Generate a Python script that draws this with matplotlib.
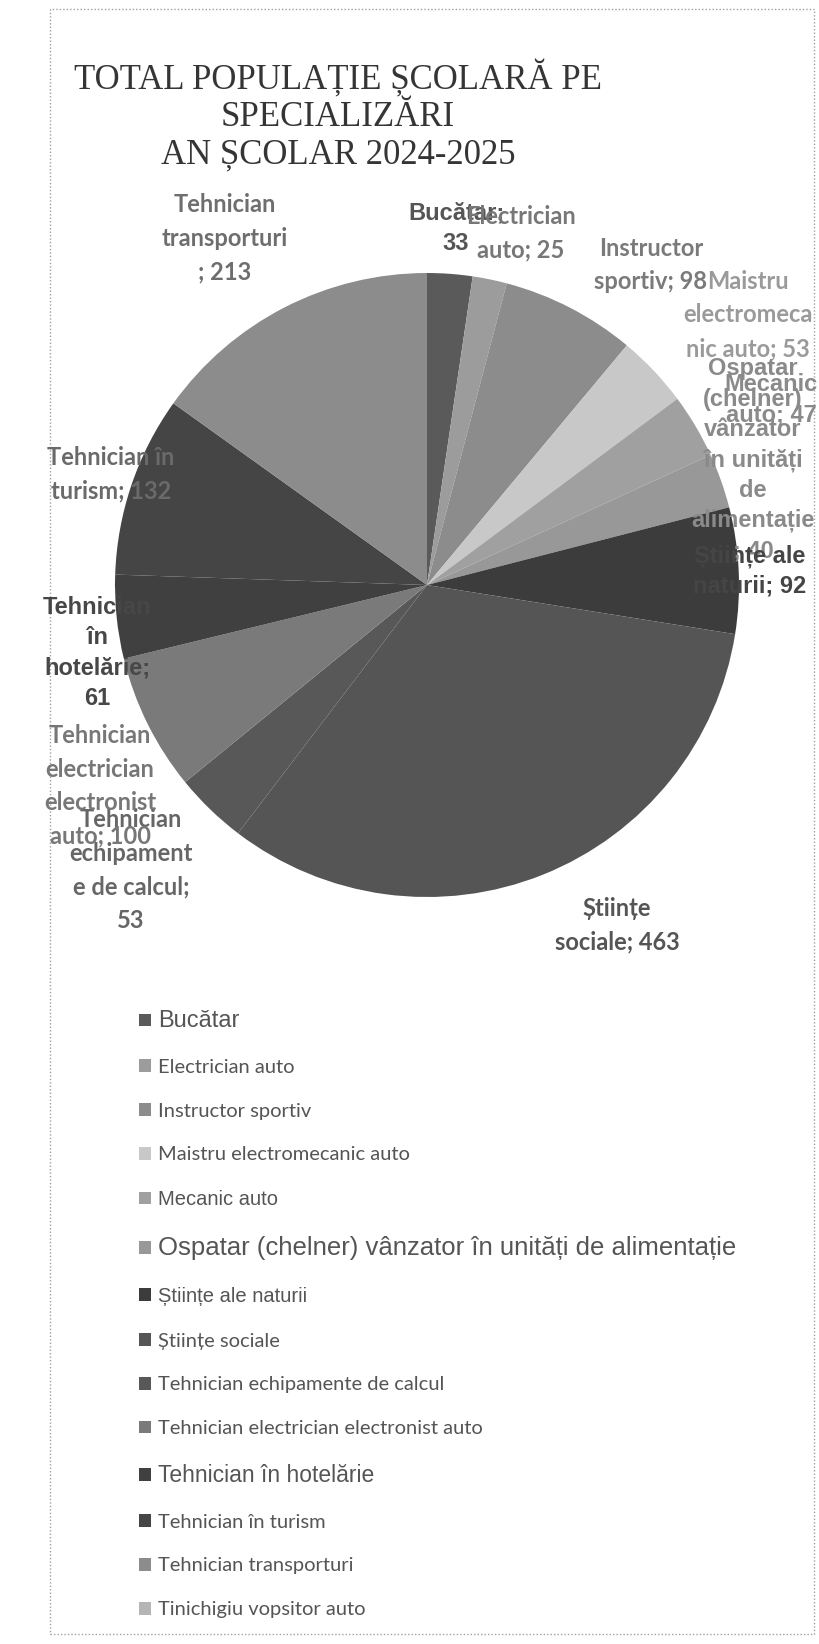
import matplotlib
matplotlib.use("Agg")
import matplotlib.pyplot as plt
from matplotlib.patches import Rectangle

# ---------------- data ----------------
categories = [
    "Bucătar",
    "Electrician auto",
    "Instructor sportiv",
    "Maistru electromecanic auto",
    "Mecanic auto",
    "Ospatar (chelner) vânzator în unități de alimentație",
    "Științe ale naturii",
    "Științe sociale",
    "Tehnician echipamente de calcul",
    "Tehnician electrician electronist auto",
    "Tehnician în hotelărie",
    "Tehnician în turism",
    "Tehnician transporturi",
    "Tinichigiu vopsitor auto",
]
values = [33, 25, 98, 53, 47, 40, 92, 463, 53, 100, 61, 132, 213, 0]

# wrapped data-label names (as Excel wrapped them)
label_names = [
    "Bucătar;\n",
    "Electrician\nauto;",
    "Instructor\nsportiv;",
    "Maistru\nelectromeca\nnic auto;",
    "Mecanic\nauto;",
    "Ospatar\n(chelner)\nvânzator\nîn unități\nde\nalimentație\n;",
    "Științe ale\nnaturii;",
    "Științe\nsociale;",
    "Tehnician\nechipament\ne de calcul;\n",
    "Tehnician\nelectrician\nelectronist\nauto;",
    "Tehnician\nîn\nhotelărie;\n",
    "Tehnician în\nturism;",
    "Tehnician\ntransporturi\n;",
    None,
]

title_lines = ["TOTAL POPULAȚIE ȘCOLARĂ PE", "SPECIALIZĂRI", "AN ȘCOLAR 2024-2025"]

# ---------------- styles ----------------
colors = ["#5a5a5a", "#9c9c9c", "#8c8c8c", "#c8c8c8", "#a0a0a0", "#989898",
          "#3c3c3c", "#555555", "#585858", "#7a7a7a", "#404040", "#454545",
          "#8c8c8c", "#b5b5b5"]

# label centre positions (pixels in figure, origin top-left) and styles
label_pos = [(456, 228), (521, 233), (651, 265), (748, 315), (771, 400), (753, 460),
             (750, 571), (617, 925), (131, 870), (100, 786), (97, 653), (111, 474),
             (225, 238), None]
label_col = ["#555555", "#777777", "#7a7a7a", "#9a9a9a", "#8a8a8a", "#8a8a8a",
             "#454545", "#555555", "#666666", "#777777", "#474747", "#6a6a6a",
             "#6e6e6e", None]
label_arial = [True, False, False, False, True, True, True, False, False, False, True, False, False, False]
legend_sizes = [17, 14.5, 14.5, 14.5, 14.5, 18.5, 14.5, 14.5, 14.5, 14.5, 16.5, 14.5, 14.5, 14.5]

W, H = 819, 1644
fig = plt.figure(figsize=(W / 100, H / 100), dpi=100)
fig.patch.set_facecolor("white")

def fx(x):
    return x / W

def fy(y):
    return 1 - y / H

# dotted frame
fig.patches.append(Rectangle((fx(50), fy(1634)), fx(814) - fx(50), fy(9) - fy(1634),
                             transform=fig.transFigure, fill=False, ec="#a0a0a0",
                             lw=1.0, ls=(0, (1, 1.5))))

# title
for line, y in zip(title_lines, [78, 118, 155]):
    fig.text(fx(338), fy(y), line, ha="center", va="center",
             family="Liberation Serif", fontsize=25, color="#353535")

# pie
cx, cy, r = 427, 585, 312
ax = fig.add_axes([fx(cx - r), fy(cy + r), 2 * r / W, 2 * r / H])
wedges, _ = ax.pie(values, colors=colors, startangle=90, counterclock=False,
                   radius=1.0, wedgeprops=dict(linewidth=0))
ax.set_xlim(-1, 1)
ax.set_ylim(-1, 1)
ax.set_aspect("equal")
ax.axis("off")

# data labels
for name, v, pos, col, ar in zip(label_names, values, label_pos, label_col, label_arial):
    if name is None:
        continue
    txt = name + ("" if name.endswith("\n") else " ") + str(v)
    if ar:
        fig.text(fx(pos[0]), fy(pos[1]), txt, ha="center", va="center",
                 family="Liberation Sans", weight="bold", fontsize=17, color=col,
                 linespacing=1.4)
    else:
        fig.text(fx(pos[0]), fy(pos[1]), txt, ha="center", va="center",
                 family="Lato", weight="bold", fontsize=17, color=col,
                 linespacing=1.55)

# legend
leg = fig.legend(wedges, categories, loc="upper left",
                 bbox_to_anchor=(fx(131), fy(1002)), frameon=False,
                 prop=dict(family="Lato", size=14.5), labelcolor="#555555",
                 handlelength=0.6, handleheight=0.6, handletextpad=0.35,
                 labelspacing=1.33, borderaxespad=0)
for t, ar, s in zip(leg.get_texts(), label_arial, legend_sizes):
    if ar:
        t.set_fontfamily("Liberation Sans")
    t.set_fontsize(s)

fig.savefig("out.png", dpi=100, facecolor="white")
